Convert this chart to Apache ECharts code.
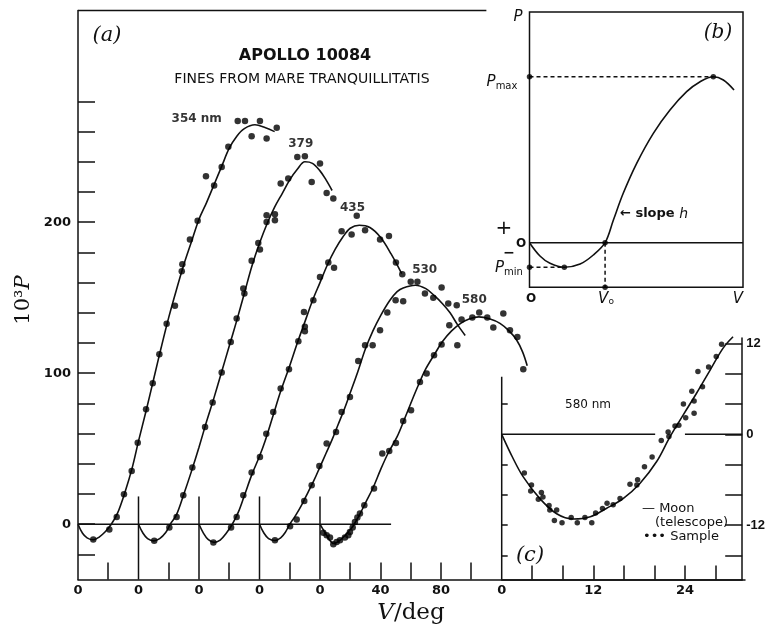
<!DOCTYPE html>
<html>
<head>
<meta charset="UTF-8">
<title>Apollo 10084 polarization</title>
<script src="https://cdn.jsdelivr.net/npm/echarts@6/dist/echarts.min.js"></script>
<style>
  html, body { margin: 0; padding: 0; background: #fff; }
  #chartmain { width: 766px; height: 628px; }
</style>
</head>
<body>
<div id="chartmain"></div>
<script>
// ---- panel (a): 10^3 P vs phase angle, every curve shifted by 40 deg ----
var curveNames = ['354 nm', '379', '435', '530', '580'];
var curveNameAt = [[78.5, 268.7], [147.3, 252], [181.5, 209.7], [229.2, 168.2], [262, 148.3]];

var fit354 = [[0,0],[3,-6],[6,-9],[10,-10.3],[14,-8.5],[18,-5],[22,0],[26,7],[31,21],[36,38],[40,55],[45,75],[50,96],[55,117],[60,137],[65,155],[70,172],[75,187],[80,202],[85,213],[90,225],[95,237],[100,249],[105,257],[110,262],[117,264.5],[124,262.5],[130,260]];
var dots354 = [[10.1,-10.1],[20.7,-3.5],[25.6,4.8],[30.4,19.9],[35.5,35.3],[39.5,53.9],[45,76.2],[49.4,93.4],[53.8,112.6],[58.6,132.7],[64.1,144.6],[68.6,167.5],[69,172.2],[74,188.5],[79.1,200.9],[84.6,230.5],[90,224.3],[95,236.6],[99.4,249.9],[105.6,267.1],[110.4,267.1],[114.8,257],[120.3,267.1],[124.7,255.4],[131.4,262.5]];

var fit379 = [[40,0],[43,-6],[46,-9.5],[50,-11],[54,-9.5],[58,-5.5],[61,0],[65,6],[70,20],[75,35],[80,51],[85,68],[90,84],[95,101],[100,118],[105,135],[110,153],[115,171],[120,186],[125,199],[130,210],[135,219],[140,228],[145,235],[150,240],[155,239],[160,234],[164,228],[168,221]];
var dots379 = [[50.4,-11],[60.4,-2.2],[65.2,4.8],[69.6,19.2],[75.6,37.5],[84,64.4],[89,80.6],[95,100.5],[101,120.7],[104.9,136.2],[110,152.8],[109.3,156.1],[114.8,174.4],[120.3,181.9],[119.2,186.3],[124.7,200.2],[130.2,201.3],[124.7,204.6],[130.2,205.3],[134,225.6],[139,228.9],[145,243.2],[150,243.7],[154.5,226.7],[160,238.9],[164.4,219.4],[168.8,215.7]];

var fit435 = [[80,0],[83,-6],[86,-10],[90,-12],[94,-10.5],[98,-6],[102,0],[106,8],[110,19],[115,33],[120,45],[124,56],[129,72],[134,88],[140,105],[145,120],[150,134],[155,148],[160,160],[165,172],[170,182],[175,190],[180,196],[186,198],[193,196.5],[200,190],[207,179],[214,166]];
var dots435 = [[89.5,-12.1],[101.2,-2.2],[104.9,4.8],[109.3,19.2],[114.8,34.2],[120.3,44.6],[124.5,60],[129.1,74.4],[134,89.9],[139.5,102.6],[145.7,121.2],[150,127.8],[150,130.7],[149.4,140.6],[155.6,148.3],[160,163.8],[165.5,173.3],[169.3,169.8],[174.3,194],[180.9,191.9],[184.3,204.2],[189.8,194.7],[199.7,188.5],[205.6,190.9],[210.2,173.3],[214.4,165.6]];

var fit530 = [[120,0],[123,-6],[126,-9.5],[130,-10.8],[134,-9],[137,-5.5],[140,0],[144,6],[148,13],[152,21],[156,29],[160,38],[164,47],[168,56],[172,66],[176,76],[180,87],[185,101],[190,116],[195,128],[200,138],[206,148],[211,154],[215,156.5],[223,158.3],[230,156],[236,151],[241,146],[246,140],[251,132],[256,125]];
var dots530 = [[130.2,-10.6],[140.2,-1.3],[144.6,3.1],[149.6,15.4],[154.5,25.8],[159.6,38.6],[164.4,53.4],[170.6,61.1],[174.3,74.4],[179.8,84.3],[185.3,108.1],[189.8,118.5],[194.8,118.5],[199.7,128.5],[204.5,140.2],[210,148.3],[215,147.7],[220,160.5],[224.4,160.5],[229.4,152.8],[234.9,149.9],[240.4,156.7],[244.8,146.2],[250.4,145],[250.8,118.5]];

var fit580 = [[160,0],[163,-5],[166,-10],[169,-12.8],[172,-11.5],[176,-8],[180,-3.5],[182,-1],[186,6],[190,14],[195,24],[200,36],[205,47],[211,58],[216,70],[220,80],[225,92],[230,103],[236,113],[241,121],[247,128],[253,133],[259,136],[265,137.3],[272,136],[279,133],[285,128],[290,122],[294,114],[297,105]];
var dots580 = [[162.2,-5.7],[164.4,-7.3],[166.6,-8.8],[168.8,-13.2],[171,-11.7],[173.2,-10.6],[176.5,-8.8],[178.7,-7.3],[179.8,-5.1],[181.6,-2.2],[183.1,1.5],[184.7,4.4],[186.4,7.1],[189.3,12.6],[195.7,23.6],[201.2,46.8],[205.8,48.5],[210.2,53.8],[215,68.4],[220.2,75.5],[226.1,94.2],[230.5,99.8],[235.4,111.9],[240.4,119],[245.5,131.8],[253.6,135.6],[260.7,136.9],[265.3,140.2],[270.6,136.9],[274.6,130.3],[281.2,139.5],[285.6,128.5],[290.5,124],[294.4,102.6]];

var tickAy = [-20,0,20,40,60,80,100,120,140,160,180,200,220,240,260,280];
var labelAy = [0,100,200];
var tickAx = [20,60,100,140,180,200,220,240,260];
var labelAx = [0,40,80,120,160,200,240];
var subAxes = [40,80,120,160];   // each curve has its own V = 0 here
var subAxisTop = 18.4;
var zeroLineEnd = 207;
var topLineEnd = 270;

// ---- panel (c): 580 nm, Moon vs sample ----
var fitMoon = [[0,0],[1.4,-3],[2.8,-5.6],[5,-8.5],[7.2,-10.5],[9.4,-11.2],[11.6,-10.9],[13.7,-9.8],[15.9,-8.5],[18.1,-6.5],[20.3,-3.6],[22,-0.4],[23.8,2.6],[25.5,5.4],[27.3,8.5],[29,11.4],[30.3,12.9]];
var dotsSample = [[2.96,-5.1],[3.9,-6.7],[3.8,-7.5],[4.8,-8.6],[5.2,-7.7],[5.4,-8.3],[6.2,-9.4],[6.3,-10],[7.2,-10],[6.9,-11.4],[7.9,-11.7],[9.1,-11],[9.9,-11.7],[10.9,-11],[11.8,-11.7],[12.3,-10.4],[13.2,-9.8],[13.8,-9.1],[14.6,-9.3],[15.5,-8.5],[16.8,-6.6],[17.7,-6.7],[17.8,-6],[18.7,-4.3],[19.7,-3],[20.9,-0.8],[21.8,0.3],[21.9,-0.3],[22.7,1.1],[23.2,1.2],[23.8,4],[24.1,2.2],[25.2,2.8],[24.9,5.7],[25.2,4.4],[25.7,8.3],[26.3,6.3],[27.1,8.9],[28.1,10.3],[28.8,11.9]];
var tickCx = [4,8,12,16,20,24,28];
var labelCx = [0,12,24];
var tickCright = [12,8,4,0,-4,-8,-12,-16];
var labelCright = [12,0,-12];
var tickCleft = [4,-4,-8,-12,-16];
var leftAxisTopC = 7.6;
var zeroGapC = [20.1, 24];

// ---- panel (b): schematic ----
var curveB = [[0,0],[4.9,-13.3],[9.6,-20.6],[16.3,-24.6],[23.7,-21.3],[29.9,-12.3],[35.4,0],[39.3,22.7],[43.9,49.4],[50.2,79.4],[58,109.4],[65.8,132.7],[73.6,151],[79.9,161],[86.1,166],[90.8,162.7],[95.8,152.7]];
var pMaxB = [86.1, 166];
var pMinB = [16.3, -24.6];
var v0B = 35.4;
var bottomB = -44.6;

var INK = '#111';
var SANS = 'DejaVu Sans';
var SERIF = 'DejaVu Serif';

var chart = echarts.init(document.getElementById('chartmain'));

function fitLine(xi, yi, data) {
    return { type: 'line', xAxisIndex: xi, yAxisIndex: yi, data: data, smooth: 0.35,
             symbol: 'none', lineStyle: { color: INK, width: 1.6 }, silent: true, z: 2, clip: false };
}
function dots(xi, yi, data, size) {
    return { type: 'scatter', xAxisIndex: xi, yAxisIndex: yi, data: data, symbol: 'circle',
             symbolSize: size || 6.5, itemStyle: { color: '#000' }, silent: true, z: 3, clip: false };
}
function seg(xi, yi, a, b, dashed, w) {
    return { type: 'line', xAxisIndex: xi, yAxisIndex: yi, data: [a, b], symbol: 'none', silent: true,
             clip: false, z: 1, lineStyle: { color: INK, width: w || 1.5, type: dashed ? [4, 3] : 'solid' } };
}
function txt(x, y, text, font, extra) {
    var st = { text: text, font: font, fill: INK, textAlign: 'center', textVerticalAlign: 'middle' };
    if (extra) for (var k in extra) st[k] = extra[k];
    return { type: 'text', x: x, y: y, style: st, silent: true, z: 10 };
}

var labelFont = { color: INK, fontFamily: SANS, fontSize: 13, fontWeight: 'bold' };

var series = [];
var fits = [fit354, fit379, fit435, fit530, fit580];
var dotSets = [dots354, dots379, dots435, dots530, dots580];
for (var i = 0; i < fits.length; i++) {
    series.push(fitLine(0, 0, fits[i]));
    series.push(dots(0, 0, dotSets[i]));
}
series.push(seg(0, 0, [0, 340.2], [topLineEnd, 340.2]));
series.push(seg(0, 0, [0, 0], [zeroLineEnd, 0]));
subAxes.forEach(function (v) { series.push(seg(0, 0, [v, -36.6], [v, subAxisTop])); });
series.push({
    type: 'scatter', xAxisIndex: 0, yAxisIndex: 0, symbolSize: 0, silent: true, z: 5,
    data: curveNameAt,
    label: { show: true, position: 'inside', color: '#000', fontFamily: SANS, fontSize: 12, fontWeight: 'bold',
             formatter: function (p) { return curveNames[p.dataIndex]; } }
});

// panel (c)
series.push(fitLine(1, 1, fitMoon));
series.push(dots(1, 1, dotsSample, 5.5));
series.push(seg(1, 1, [0, -19.2], [0, leftAxisTopC]));
series.push(seg(1, 1, [0, 0], [zeroGapC[0], 0]));
series.push(seg(1, 1, [zeroGapC[1], 0], [31.5, 0]));

// panel (b)
series.push(fitLine(2, 3, curveB));
series.push(seg(2, 3, [0, 0], [100, 0]));
series.push(seg(2, 3, [0, pMaxB[1]], pMaxB, true));
series.push(seg(2, 3, [0, pMinB[1]], pMinB, true));
series.push(seg(2, 3, [v0B, 0], [v0B, bottomB], true));
series.push(dots(2, 3, [[0, pMaxB[1]], pMaxB, [0, pMinB[1]], pMinB, [v0B, 0], [v0B, bottomB]], 5.5));

var option = {
    backgroundColor: '#fff',
    animation: false,
    grid: [
        { left: 78, top: 10.5, width: 667, height: 569, outerBoundsMode: 'none', containLabel: false },
        { left: 501.7, top: 338, width: 240.5, height: 241.5, outerBoundsMode: 'none', containLabel: false },
        { left: 529.5, top: 12, width: 213.5, height: 275.3, show: true, outerBoundsMode: 'none', containLabel: false,
          borderColor: INK, borderWidth: 1.5, backgroundColor: 'transparent' }
    ],
    xAxis: [
        { gridIndex: 0, type: 'value', min: 0, max: 441, splitLine: { show: false },
          axisLine: { onZero: false, lineStyle: { color: INK, width: 1.5 } },
          axisTick: { inside: true, length: 17, customValues: tickAx, lineStyle: { color: INK, width: 1.5 } },
          axisLabel: Object.assign({ customValues: labelAx, margin: 5,
              formatter: function (v) { return v <= 160 ? '0' : String(v - 160); } }, labelFont) },
        { gridIndex: 1, type: 'value', min: 0, max: 31.5, splitLine: { show: false },
          axisLine: { onZero: false, lineStyle: { color: INK, width: 1.5 } },
          axisTick: { inside: true, length: 14, customValues: tickCx, lineStyle: { color: INK, width: 1.5 } },
          axisLabel: Object.assign({ customValues: labelCx, margin: 5 }, labelFont) },
        { gridIndex: 2, type: 'value', min: 0, max: 100, show: false }
    ],
    yAxis: [
        { gridIndex: 0, type: 'value', min: -36.6, max: 340.2, splitLine: { show: false },
          axisLine: { show: true, onZero: false, lineStyle: { color: INK, width: 1.5 } },
          axisTick: { inside: true, length: 17, customValues: tickAy, lineStyle: { color: INK, width: 1.5 } },
          axisLabel: Object.assign({ customValues: labelAy, margin: 7 }, labelFont) },
        { gridIndex: 1, type: 'value', position: 'right', min: -19.2, max: 12.74, splitLine: { show: false },
          axisLine: { show: true, onZero: false, lineStyle: { color: INK, width: 1.5 } },
          axisTick: { inside: true, length: 17, customValues: tickCright, lineStyle: { color: INK, width: 1.5 } },
          axisLabel: { customValues: labelCright, margin: 4, color: INK, fontFamily: 'Liberation Sans',
                       fontSize: 13, fontWeight: 'bold' } },
        { gridIndex: 1, type: 'value', position: 'left', min: -19.2, max: 12.74, splitLine: { show: false },
          axisLine: { show: false },
          axisTick: { show: true, inside: true, length: 6, customValues: tickCleft, lineStyle: { color: INK, width: 1.5 } },
          axisLabel: { show: false } },
        { gridIndex: 2, type: 'value', min: bottomB, max: 230.7, show: false }
    ],
    graphic: [
        txt(107, 36, '(a)', 'italic 21px ' + SERIF),
        txt(305, 56, 'APOLLO 10084', 'bold 16px ' + SANS),
        txt(302, 79, 'FINES FROM MARE TRANQUILLITATIS', '14px ' + SANS),
        { type: 'text', x: 24, y: 300, rotation: Math.PI / 2, silent: true, z: 10,
          style: { text: '10³{i|P}', font: '21px ' + SERIF, fill: INK, textAlign: 'center', textVerticalAlign: 'middle',
                   rich: { i: { fontFamily: SERIF, fontStyle: 'italic', fontSize: 21 } } } },
        txt(411, 613, '{i|V}/deg', '23px ' + SERIF, { rich: { i: { fontFamily: SERIF, fontStyle: 'italic', fontSize: 23 } } }),
        // (b)
        txt(518, 17, 'P', 'italic 15px ' + SANS),
        txt(718, 33, '(b)', 'italic 20px ' + SERIF),
        txt(502, 82, '{i|P}{s|max}', '14px ' + SANS, { rich: { i: { fontStyle: 'italic', fontSize: 15, fontFamily: SANS },
                                                           s: { fontSize: 10, fontFamily: SANS, padding: [8, 0, 0, 0] } } }),
        txt(504, 229, '+', '20px ' + SANS),
        txt(521, 244, 'O', 'bold 12px ' + SANS),
        txt(509, 253, '−', 'bold 14px ' + SANS),
        txt(509, 268, '{i|P}{s|min}', '14px ' + SANS, { rich: { i: { fontStyle: 'italic', fontSize: 15, fontFamily: SANS },
                                                           s: { fontSize: 10, fontFamily: SANS, padding: [8, 0, 0, 0] } } }),
        txt(531, 299, 'O', 'bold 12px ' + SANS),
        txt(606, 299, '{i|V}{s|o}', '14px ' + SANS, { rich: { i: { fontStyle: 'italic', fontSize: 15, fontFamily: SANS },
                                                        s: { fontSize: 9, fontFamily: SANS, padding: [6, 0, 0, 0] } } }),
        txt(738, 299, 'V', 'italic 15px ' + SANS),
        txt(620, 214, '← slope {i|h}', 'bold 13px ' + SANS, { textAlign: 'left',
                 rich: { i: { fontStyle: 'italic', fontSize: 14, fontFamily: SANS } } }),
        // (c)
        txt(588, 405, '580 nm', '12px ' + SANS),
        txt(642, 509, '— Moon', '13px ' + SANS, { textAlign: 'left' }),
        txt(655, 523, '(telescope)', '13px ' + SANS, { textAlign: 'left' }),
        txt(643, 537, '••• Sample', '13px ' + SANS, { textAlign: 'left' }),
        txt(530, 556, '(c)', 'italic 21px ' + SERIF)
    ],
    series: series
};
chart.setOption(option);
</script>
</body>
</html>
